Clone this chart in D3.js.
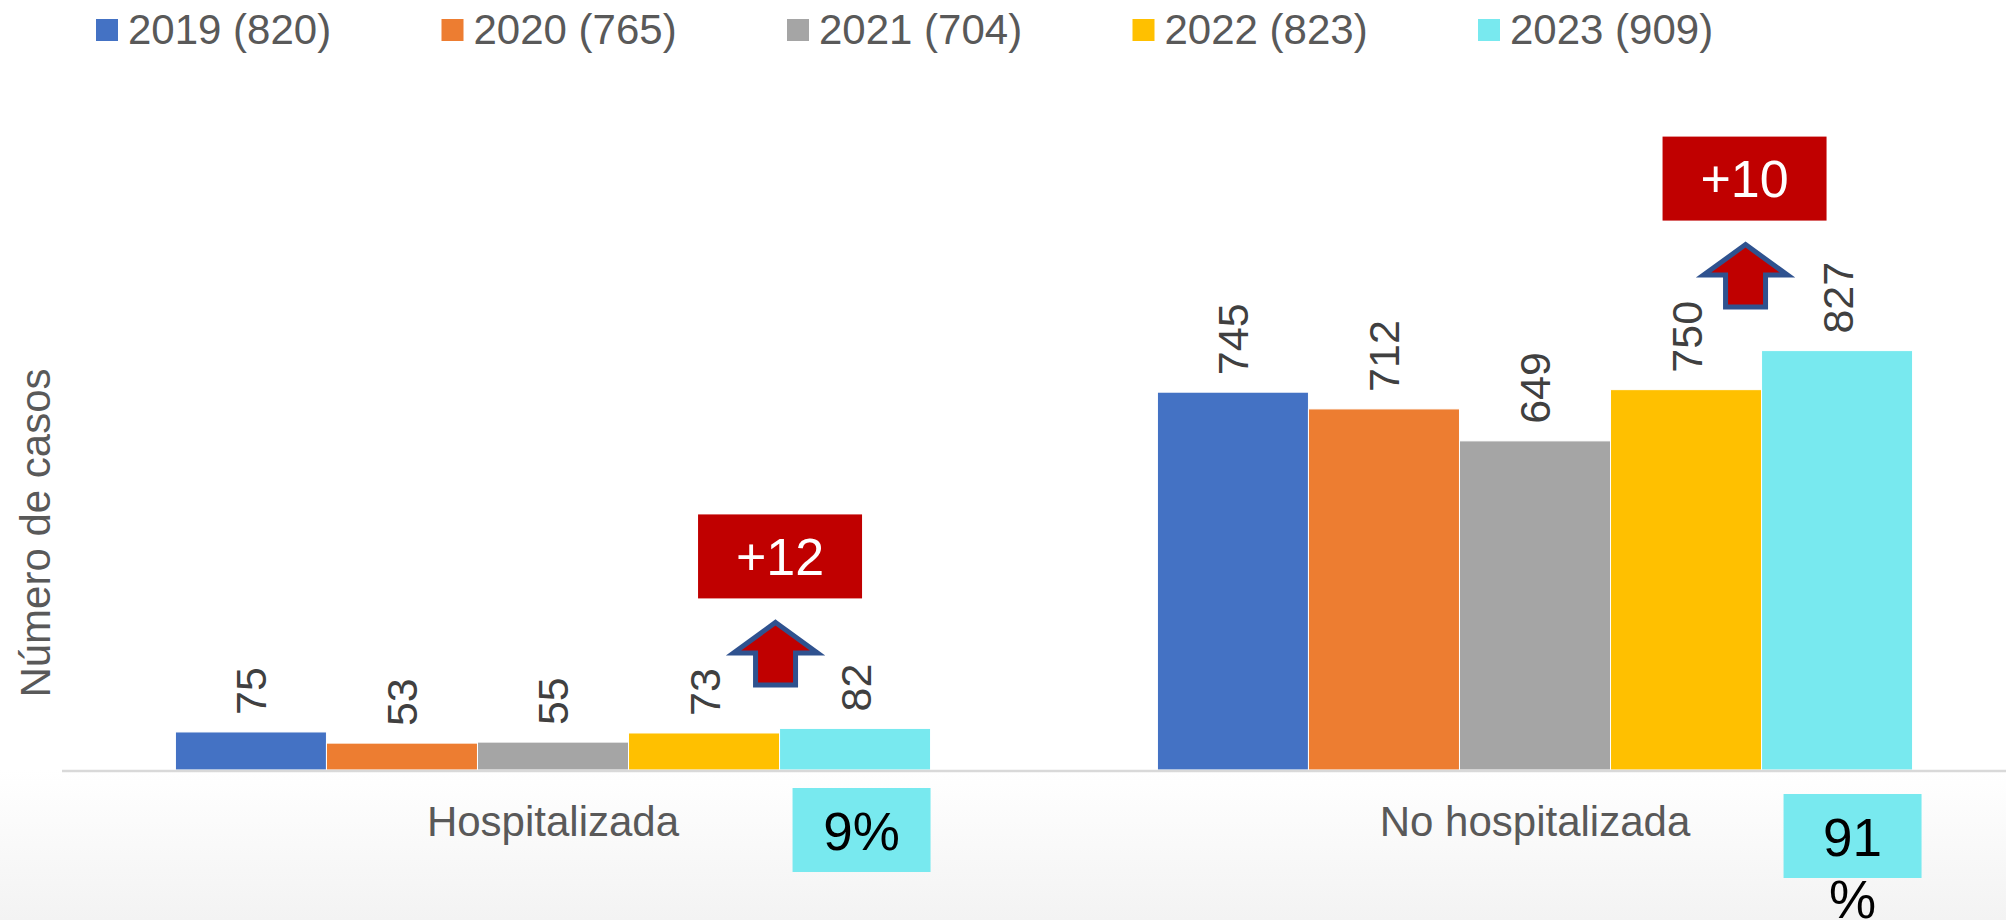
<!DOCTYPE html>
<html>
<head>
<meta charset="utf-8">
<script src="https://cdn.jsdelivr.net/npm/d3@7"></script>
<style>
  html, body { margin: 0; padding: 0; background: #fff; }
  svg { display: block; }
</style>
</head>
<body>
<div id="chart"></div>
<script>
// Chart data
const categories = ["Hospitalizada", "No hospitalizada"];
const years = ["2019", "2020", "2021", "2022", "2023"];
const yearTotals = [820, 765, 704, 823, 909];
const hospitalizada = [75, 53, 55, 73, 82];
const noHospitalizada = [745, 712, 649, 750, 827];
const changeLabels = ["+12", "+10"];
const shareLabels = ["9%", "91%"];

const seriesByCategory = [hospitalizada, noHospitalizada];

const width = 2006;
const height = 920;
const baseline = 770;
const fontFamily = "'Liberation Sans', Arial, sans-serif";

// per-category nudges for the callouts (they were placed by hand in the original)
const calloutLayout = [
  { arrowDx: -4, boxDx: 0.5, shareDx: 82, shareDy: 18 },
  { arrowDx: -16, boxDx: -17, shareDx: 91, shareDy: 24 },
];

const colors = ["#4472C4", "#ED7D31", "#A5A5A5", "#FFC000", "#78E9EF"];

const svg = d3
  .create("svg")
  .attr("width", width)
  .attr("height", height)
  .attr("viewBox", [0, 0, width, height]);

// Faint gradient below the axis
const defs = svg.append("defs");
const grad = defs
  .append("linearGradient")
  .attr("id", "floor")
  .attr("x1", 0)
  .attr("y1", 0)
  .attr("x2", 0)
  .attr("y2", 1);
grad.append("stop").attr("offset", "0%").attr("stop-color", "#ffffff");
grad.append("stop").attr("offset", "100%").attr("stop-color", "#f3f3f3");

svg.append("rect").attr("width", width).attr("height", height).attr("fill", "#fff");
svg
  .append("rect")
  .attr("x", 0)
  .attr("y", baseline)
  .attr("width", width)
  .attr("height", height - baseline)
  .attr("fill", "url(#floor)");

// Scales
const x0 = d3
  .scaleBand()
  .domain(categories)
  .range([62, 2026])
  .paddingInner(0.231)
  .paddingOuter(0.1155);

const x1 = d3.scaleBand().domain(years).range([0, x0.bandwidth()]);

const y = d3.scaleLinear().domain([0, 1400]).range([baseline, 60]);

const color = d3.scaleOrdinal().domain(years).range(colors);

const rows = categories.map((cat, ci) => ({
  cat,
  values: years.map((yr, yi) => ({ cat, yr, value: seriesByCategory[ci][yi] })),
}));

// Bars
const groups = svg
  .append("g")
  .selectAll("g")
  .data(rows)
  .join("g")
  .attr("transform", (d) => `translate(${x0(d.cat)},0)`);

groups
  .selectAll("rect")
  .data((d) => d.values)
  .join("rect")
  .attr("x", (d) => x1(d.yr))
  .attr("y", (d) => y(d.value))
  .attr("width", x1.bandwidth())
  .attr("height", (d) => y(0) - y(d.value))
  .attr("fill", (d) => color(d.yr))
  .attr("stroke", "#fff")
  .attr("stroke-width", 1);

// Value labels (rotated)
groups
  .selectAll("text")
  .data((d) => d.values)
  .join("text")
  .attr(
    "transform",
    (d) => `translate(${x1(d.yr) + x1.bandwidth() / 2},${y(d.value) - 17}) rotate(-90)`,
  )
  .attr("dy", "0.36em")
  .attr("text-anchor", "start")
  .attr("fill", "#404040")
  .attr("font-size", "43px")
  .attr("font-family", fontFamily)
  .text((d) => d.value);

// X axis
svg
  .append("g")
  .attr("transform", `translate(0,${baseline})`)
  .call(d3.axisBottom(x0).tickSize(0).tickPadding(36))
  .call((g) =>
    g
      .select(".domain")
      .attr("d", `M62,1H${width}`)
      .attr("stroke", "#d9d9d9")
      .attr("stroke-width", 2.5),
  )
  .call((g) =>
    g
      .selectAll(".tick text")
      .attr("fill", "#595959")
      .attr("font-size", "42px")
      .attr("font-family", fontFamily),
  );

// Y axis title
svg
  .append("text")
  .attr("transform", "translate(50,533) rotate(-90)")
  .attr("text-anchor", "middle")
  .attr("fill", "#595959")
  .attr("font-size", "42px")
  .attr("font-family", fontFamily)
  .text("Número de casos");

// Legend
const legend = svg
  .append("g")
  .selectAll("g")
  .data(years)
  .join("g")
  .attr("transform", (d, i) => `translate(${96 + i * 345.5},0)`);

legend
  .append("rect")
  .attr("x", 0)
  .attr("y", 19)
  .attr("width", 22)
  .attr("height", 22)
  .attr("fill", (d) => color(d));

legend
  .append("text")
  .attr("x", 32)
  .attr("y", 44)
  .attr("fill", "#595959")
  .attr("font-size", "42px")
  .attr("font-family", fontFamily)
  .text((d, i) => `${d} (${yearTotals[i]})`);

// Callouts: arrow + change box above the 2023 bar, share box below the axis
const last = years[years.length - 1];
categories.forEach((cat, ci) => {
  const lay = calloutLayout[ci];
  const barX = x0(cat) + x1(last);
  const barTop = y(seriesByCategory[ci][years.length - 1]);
  const ax = barX + lay.arrowDx;
  const ay = barTop - 110;

  const arrow = [
    [0, 4],
    [42, 34.5],
    [20, 34.5],
    [20, 66.5],
    [-20, 66.5],
    [-20, 34.5],
    [-42, 34.5],
  ];
  svg
    .append("path")
    .attr("d", d3.line()(arrow.map(([px, py]) => [ax + px, ay + py])) + "Z")
    .attr("fill", "#C00000")
    .attr("stroke", "#2F528F")
    .attr("stroke-width", 5)
    .attr("stroke-linejoin", "miter");

  const bx = barX + lay.boxDx;
  const by = barTop - 214;
  svg
    .append("rect")
    .attr("x", bx - 82)
    .attr("y", by)
    .attr("width", 164)
    .attr("height", 84)
    .attr("fill", "#C00000");
  svg
    .append("text")
    .attr("x", bx)
    .attr("y", by + 42)
    .attr("dy", "0.36em")
    .attr("text-anchor", "middle")
    .attr("fill", "#fff")
    .attr("font-size", "52px")
    .attr("font-family", fontFamily)
    .text(changeLabels[ci]);

  // share box
  const sx = barX + lay.shareDx;
  const sy = baseline + lay.shareDy;
  svg
    .append("rect")
    .attr("x", sx - 69)
    .attr("y", sy)
    .attr("width", 138)
    .attr("height", 84)
    .attr("fill", "#78E9EF");

  const label = shareLabels[ci];
  const t = svg
    .append("text")
    .attr("text-anchor", "middle")
    .attr("fill", "#000")
    .attr("font-size", "53px")
    .attr("font-family", fontFamily);
  // text box wraps when the string is wider than its inner width
  const lines = label.length > 2 ? [label.slice(0, -1), label.slice(-1)] : [label];
  lines.forEach((ln, li) => {
    t.append("tspan")
      .attr("x", sx)
      .attr("y", sy + 42 + li * 62)
      .attr("dy", "0.38em")
      .text(ln);
  });
});

document.getElementById("chart").appendChild(svg.node());
</script>
</body>
</html>
